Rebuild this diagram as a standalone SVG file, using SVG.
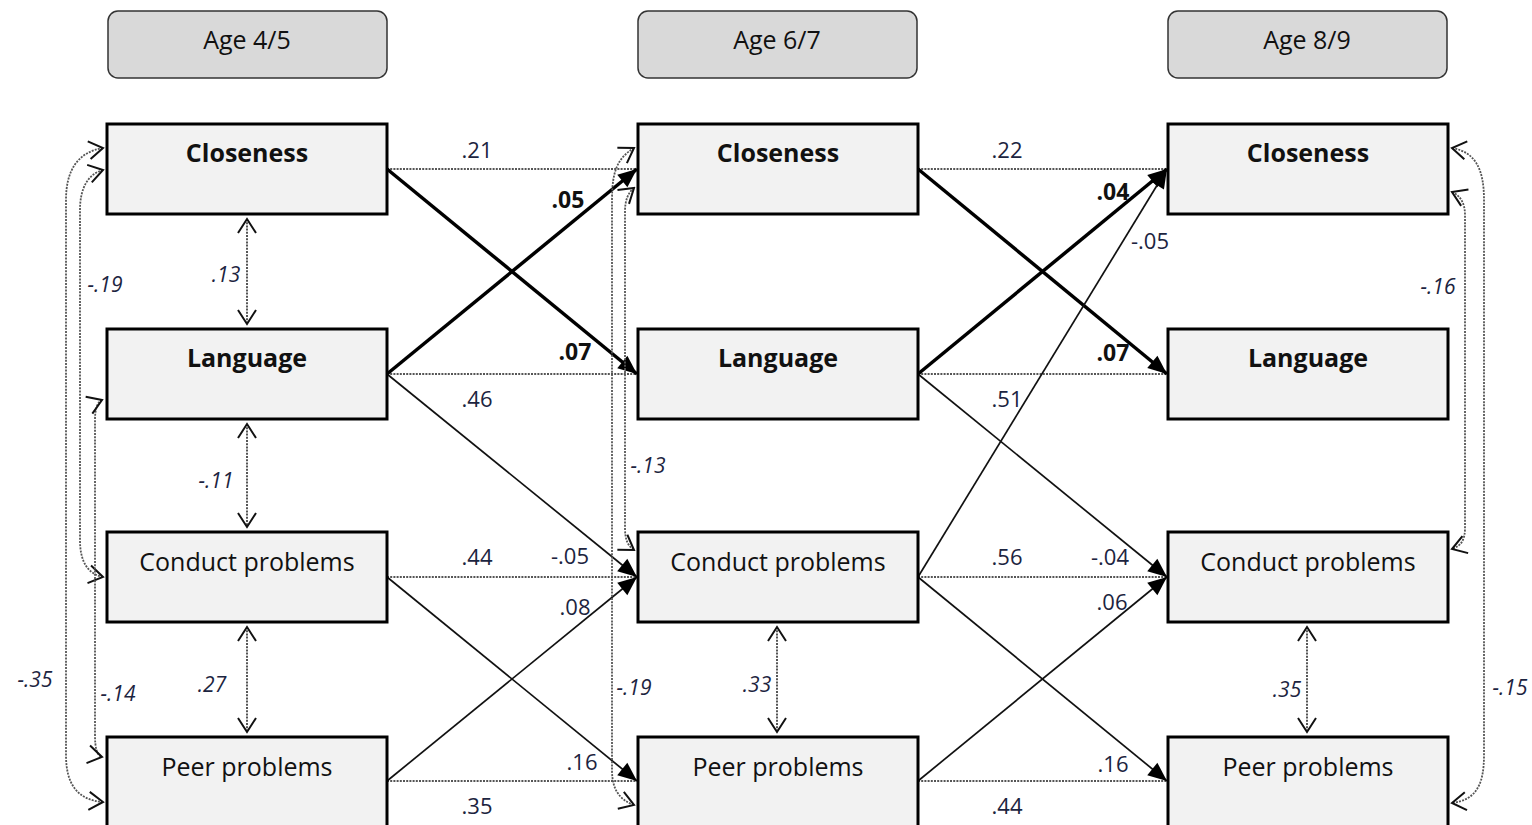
<svg xmlns="http://www.w3.org/2000/svg" width="1532" height="825" viewBox="0 0 1532 825">
<style>
.hdr{fill:#d9d9d9;stroke:#333;stroke-width:1.5}
.box{fill:#f2f2f2;stroke:#000;stroke-width:3}
.ht{font-family:"Open Sans","Liberation Sans",sans-serif;font-size:25px;fill:#111;text-anchor:middle}
.bt{font-family:"Open Sans","Liberation Sans",sans-serif;font-size:25px;font-weight:bold;fill:#111;text-anchor:middle}
.nt{font-family:"Open Sans","Liberation Sans",sans-serif;font-size:25px;fill:#111;text-anchor:middle}
.lb{font-family:"Open Sans","Liberation Sans",sans-serif;font-size:22px;fill:#1c2440;text-anchor:middle}
.lbb{font-family:"Open Sans","Liberation Sans",sans-serif;font-size:23px;font-weight:bold;fill:#111;text-anchor:middle}
.li{font-family:"Open Sans","Liberation Sans",sans-serif;font-size:21px;font-style:italic;fill:#1c2440;text-anchor:middle}
.dot{fill:none;stroke:#555;stroke-width:2;stroke-dasharray:2 1.2}
.thick{fill:none;stroke:#000;stroke-width:3.5;marker-end:url(#fa)}
.thin{fill:none;stroke:#111;stroke-width:1.7;marker-end:url(#fa)}
.dbl{fill:none;stroke:#444;stroke-width:1.8;stroke-dasharray:2 1.2;marker-start:url(#oa);marker-end:url(#oa)}
.cur{fill:none;stroke:#555;stroke-width:1.8;stroke-dasharray:2 1.2;marker-start:url(#oa);marker-end:url(#oa)}
</style>
<defs>
<marker id="fa" viewBox="-20 -9 21 18" markerWidth="21" markerHeight="18" refX="0" refY="0" orient="auto" markerUnits="userSpaceOnUse">
<path d="M-19,-8 L0,0 L-19,8 Z" fill="#000"/>
</marker>
<marker id="oa" viewBox="-16 -11 18 22" markerWidth="18" markerHeight="22" refX="0" refY="0" orient="auto-start-reverse" markerUnits="userSpaceOnUse">
<path d="M-14,-9 L0,0 L-14,9" fill="none" stroke="#111" stroke-width="2"/>
</marker>
</defs>

<g id="header-1"><rect class="hdr" x="108" y="11" width="279" height="67" rx="10"/><text class="ht" x="247" y="49">Age 4/5</text></g>
<g id="header-2"><rect class="hdr" x="638" y="11" width="279" height="67" rx="10"/><text class="ht" x="777" y="49">Age 6/7</text></g>
<g id="header-3"><rect class="hdr" x="1168" y="11" width="279" height="67" rx="10"/><text class="ht" x="1307" y="49">Age 8/9</text></g>

<g id="connectors">
<line class="dot" x1="387" y1="169" x2="636" y2="169"/>
<line class="dot" x1="387" y1="374" x2="636" y2="374"/>
<line class="dot" x1="387" y1="577" x2="636" y2="577"/>
<line class="dot" x1="387" y1="781" x2="636" y2="781"/>
<line class="dot" x1="918" y1="169" x2="1166" y2="169"/>
<line class="dot" x1="918" y1="374" x2="1166" y2="374"/>
<line class="dot" x1="918" y1="577" x2="1166" y2="577"/>
<line class="dot" x1="918" y1="781" x2="1166" y2="781"/>
<line class="thick" x1="387" y1="169" x2="637" y2="374"/>
<line class="thick" x1="387" y1="374" x2="637" y2="169"/>
<line class="thin" x1="387" y1="374" x2="637" y2="577"/>
<line class="thin" x1="387" y1="577" x2="637" y2="781"/>
<line class="thin" x1="387" y1="781" x2="637" y2="577"/>
<line class="thick" x1="918" y1="169" x2="1167" y2="374"/>
<line class="thick" x1="918" y1="374" x2="1167" y2="169"/>
<line class="thin" x1="918" y1="374" x2="1167" y2="577"/>
<line class="thin" x1="918" y1="577" x2="1167" y2="781"/>
<line class="thin" x1="918" y1="781" x2="1167" y2="577"/>
<line class="thin" x1="918" y1="577" x2="1167" y2="169"/>
<line class="dbl" x1="247" y1="219" x2="247" y2="324"/>
<line class="dbl" x1="247" y1="424" x2="247" y2="527"/>
<line class="dbl" x1="247" y1="627" x2="247" y2="732"/>
<line class="dbl" x1="777" y1="627" x2="777" y2="732"/>
<line class="dbl" x1="1307" y1="627" x2="1307" y2="732"/>
<path class="cur" d="M103,148 C78,152 66,170 66,200 L66,755 C66,785 78,800 103,802"/>
<path class="cur" d="M103,170 C88,174 80,188 80,210 L80,540 C80,562 88,574 103,577"/>
<path class="cur" d="M102,400 C97,402 95,410 95,420 L95,735 C95,748 97,756 102,757"/>
<path class="cur" d="M634,148 C618,158 612,170 612,200 L612,770 C612,790 620,800 634,805"/>
<path class="cur" d="M634,188 C628,193 625,200 625,212 L625,528 C625,540 628,546 634,550"/>
<path class="cur" d="M1452,148 C1476,152 1484,170 1484,200 L1484,755 C1484,785 1476,800 1452,803"/>
<path class="cur" d="M1452,192 C1461,196 1465,204 1465,215 L1465,528 C1465,540 1461,546 1452,549"/>
</g>

<g id="labels">
<text class="lb" x="477" y="158">.21</text>
<text class="lbb" x="568" y="208">.05</text>
<text class="lbb" x="575" y="360">.07</text>
<text class="lb" x="477" y="407">.46</text>
<text class="lb" x="570" y="564">-.05</text>
<text class="lb" x="477" y="565">.44</text>
<text class="lb" x="575" y="615">.08</text>
<text class="lb" x="582" y="770">.16</text>
<text class="lb" x="477" y="814">.35</text>
<text class="lb" x="1007" y="158">.22</text>
<text class="lbb" x="1113" y="200">.04</text>
<text class="lb" x="1150" y="249">-.05</text>
<text class="lbb" x="1113" y="361">.07</text>
<text class="lb" x="1007" y="407">.51</text>
<text class="lb" x="1007" y="565">.56</text>
<text class="lb" x="1110" y="565">-.04</text>
<text class="lb" x="1112" y="610">.06</text>
<text class="lb" x="1113" y="772">.16</text>
<text class="lb" x="1007" y="814">.44</text>
<text class="li" x="226" y="282">.13</text>
<text class="li" x="216" y="488">-.11</text>
<text class="li" x="212" y="692">.27</text>
<text class="li" x="105" y="292">-.19</text>
<text class="li" x="35" y="687">-.35</text>
<text class="li" x="118" y="701">-.14</text>
<text class="li" x="634" y="695">-.19</text>
<text class="li" x="648" y="473">-.13</text>
<text class="li" x="757" y="692">.33</text>
<text class="li" x="1287" y="697">.35</text>
<text class="li" x="1438" y="294">-.16</text>
<text class="li" x="1510" y="695">-.15</text>
</g>

<g id="n-close-1"><rect class="box" x="107" y="124" width="280" height="90"/><text class="bt" x="247" y="162">Closeness</text></g>
<g id="n-lang-1"><rect class="box" x="107" y="329" width="280" height="90"/><text class="bt" x="247" y="367">Language</text></g>
<g id="n-cond-1"><rect class="box" x="107" y="532" width="280" height="90"/><text class="nt" x="247" y="571">Conduct problems</text></g>
<g id="n-peer-1"><rect class="box" x="107" y="737" width="280" height="90"/><text class="nt" x="247" y="776">Peer problems</text></g>

<g id="n-close-2"><rect class="box" x="638" y="124" width="280" height="90"/><text class="bt" x="778" y="162">Closeness</text></g>
<g id="n-lang-2"><rect class="box" x="638" y="329" width="280" height="90"/><text class="bt" x="778" y="367">Language</text></g>
<g id="n-cond-2"><rect class="box" x="638" y="532" width="280" height="90"/><text class="nt" x="778" y="571">Conduct problems</text></g>
<g id="n-peer-2"><rect class="box" x="638" y="737" width="280" height="90"/><text class="nt" x="778" y="776">Peer problems</text></g>

<g id="n-close-3"><rect class="box" x="1168" y="124" width="280" height="90"/><text class="bt" x="1308" y="162">Closeness</text></g>
<g id="n-lang-3"><rect class="box" x="1168" y="329" width="280" height="90"/><text class="bt" x="1308" y="367">Language</text></g>
<g id="n-cond-3"><rect class="box" x="1168" y="532" width="280" height="90"/><text class="nt" x="1308" y="571">Conduct problems</text></g>
<g id="n-peer-3"><rect class="box" x="1168" y="737" width="280" height="90"/><text class="nt" x="1308" y="776">Peer problems</text></g>
</svg>
